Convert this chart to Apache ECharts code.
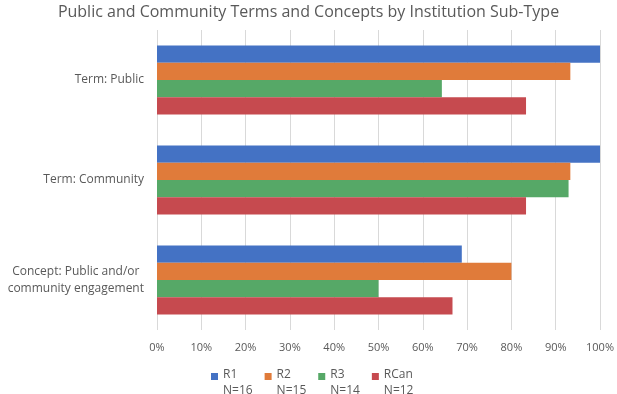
<!DOCTYPE html>
<html>
<head>
<meta charset="utf-8">
<script src="https://cdn.jsdelivr.net/npm/echarts@6/dist/echarts.min.js"></script>
<style>
	html, body { margin: 0; padding: 0; background: #fff; }
	#chart { width: 617px; height: 394px; }
</style>
</head>
<body>
<div id="chart"></div>
<script>
	// categories, top to bottom
	const categories = ['Term: Public', 'Term: Community', 'Concept: Public and/or\ncommunity engagement'];
	const seriesNames = ['R1', 'R2', 'R3', 'RCan'];
	const sampleSizes = ['N=16', 'N=15', 'N=14', 'N=12'];
	// percent of institutions
	const r1 = [100, 100, 68.8];
	const r2 = [93.3, 93.3, 80];
	const r3 = [64.3, 92.9, 50];
	const rcan = [83.3, 83.3, 66.7];
	const colorList = ['#4472C4', '#E07B3A', '#56A867', '#C64A4F'];

	const values = [r1, r2, r3, rcan];
	const textColor = '#595959';

	let myChart = echarts.init(document.getElementById('chart'));
	let option = {
		animation: false,
		title: {
			text: 'Public and Community Terms and Concepts by Institution Sub-Type',
			left: 'center',
			top: -1,
			textStyle: {
				color: textColor,
				fontSize: 16,
				fontWeight: 'normal',
				fontFamily: 'Open Sans'
			}
		},
		legend: {
			left: 206,
			top: 362,
			itemGap: 12,
			itemWidth: 7,
			itemHeight: 20,
			icon: 'path://M0,0h7v7h-7z M0,20L0.01,20',
			formatter: name => name + '\n' + sampleSizes[seriesNames.indexOf(name)],
			textStyle: {
				color: textColor,
				fontSize: 12,
				lineHeight: 16,
				fontFamily: 'Open Sans'
			},
			data: seriesNames
		},
		grid: {
			left: 157,
			right: 16,
			top: 30,
			bottom: 64,
			containLabel: false
		},
		xAxis: {
			type: 'value',
			min: 0,
			max: 100,
			interval: 10,
			axisLine: { show: false },
			axisTick: { show: false },
			splitLine: { lineStyle: { color: '#D9D9D9' } },
			axisLabel: {
				formatter: '{value}%',
				color: textColor,
				fontSize: 11,
				margin: 12,
				fontFamily: 'Open Sans'
			}
		},
		yAxis: {
			type: 'category',
			inverse: true,
			data: categories,
			axisLine: { show: false },
			axisTick: { show: false },
			axisLabel: {
				margin: 13,
				formatter: v => v.split('\n').map(s => '{c|' + s + '}').join('\n'),
				rich: {
					c: {
						align: 'center',
						color: textColor,
						fontSize: 12,
						lineHeight: 17,
						fontFamily: 'Open Sans'
					}
				}
			}
		},
		series: seriesNames.map((name, index) => ({
			name: name,
			type: 'bar',
			data: values[index],
			barGap: '0%',
			barCategoryGap: '31%',
			itemStyle: { color: colorList[index] }
		}))
	};
	myChart.setOption(option);
</script>
</body>
</html>
